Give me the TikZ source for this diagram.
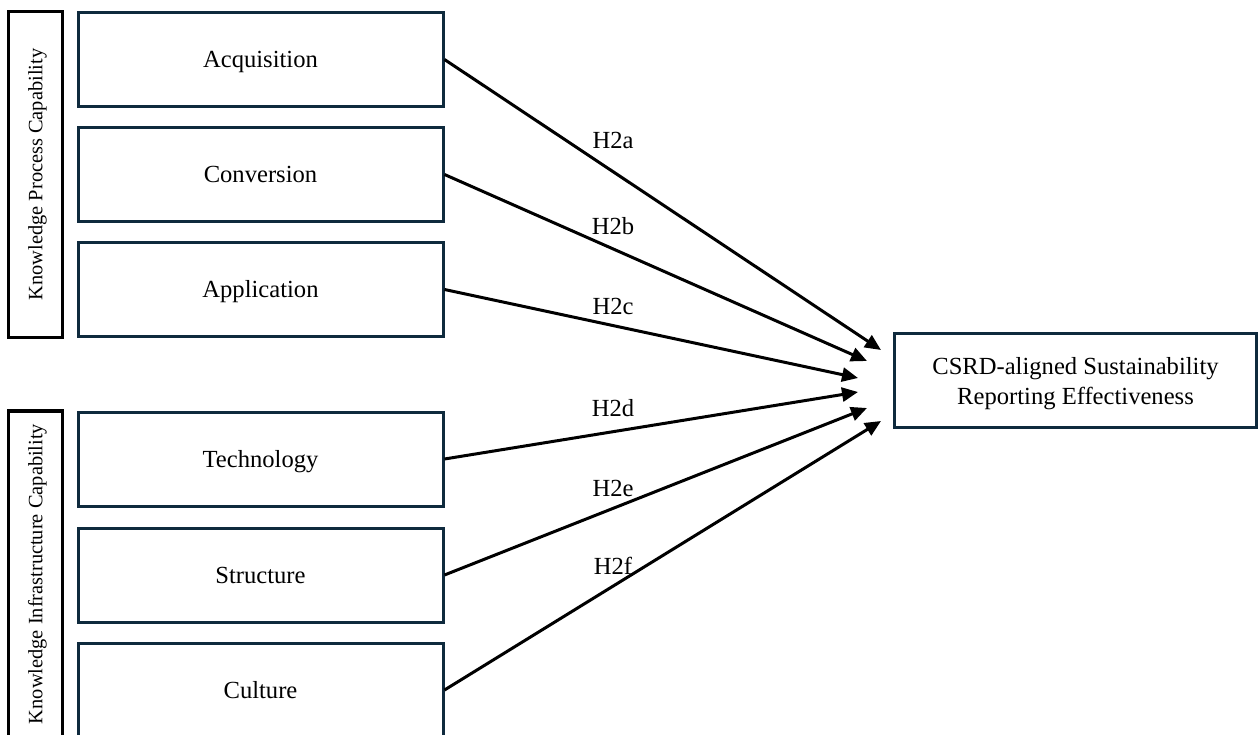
\documentclass[tikz,border=0pt]{standalone}
\usepackage{fontspec}
\setmainfont{Liberation Serif}
\usetikzlibrary{arrows.meta}
\definecolor{boxnavy}{HTML}{0F2A3D}
\begin{document}
\begin{tikzpicture}[x=1pt,y=-1pt,
  dimbox/.style={draw=boxnavy,line width=3pt,minimum width=365pt,minimum height=94pt,
    inner sep=0pt,font=\fontsize{24.6}{30}\selectfont,text height=22pt,text depth=5.3pt},
  groupbox/.style={draw=black,line width=3.3pt,minimum width=54pt,inner sep=0pt},
  grouplabel/.style={rotate=90,font=\fontsize{20.4}{24}\selectfont,text height=18.2pt,text depth=4.4pt,inner sep=0pt},
  hyp/.style={font=\fontsize{24.6}{29}\selectfont,inner sep=0pt},
  link/.style={line width=3pt,-{Triangle[length=16pt,width=14pt]}}]
\useasboundingbox (0,0) rectangle (1260,735);
\clip (0,0) rectangle (1260,735);

% capability groups
\node[groupbox,minimum height=326pt] (kpc) at (35.5,174.5) {};
\node[grouplabel] (kpclab) at (kpc.center) {Knowledge Process Capability};
\node[groupbox,minimum height=326pt] (kic) at (35.5,574) {};
\node[grouplabel] (kiclab) at (kic.center) {Knowledge Infrastructure Capability};

% dimensions
\node[dimbox] (acq) at (260.5,59.5) {Acquisition};
\node[dimbox] (con) at (260.5,174.5) {Conversion};
\node[dimbox] (app) at (260.5,289.5) {Application};
\node[dimbox] (tec) at (260.5,459) {Technology};
\node[dimbox] (str) at (260.5,575) {Structure};
\node[dimbox] (cul) at (260.5,690) {Culture};

% outcome
\node[draw=boxnavy,line width=3pt,minimum width=362pt,minimum height=94pt,inner sep=0pt]
  (csrd) at (1075.5,380.5) {};
\node[align=center,inner sep=0pt,font=\fontsize{24.6}{30}\selectfont] (csrdtext) at (1075.5,384)
  {CSRD-aligned Sustainability\\Reporting Effectiveness};

% arrow tips
\coordinate (ta) at (881,350);
\coordinate (tb) at (867,361);
\coordinate (tc) at (858,378);
\coordinate (td) at (858,392);
\coordinate (te) at (867,408);
\coordinate (tf) at (881,421);

\draw[link] (acq.east) -- (ta);
\draw[link] (con.east) -- (tb);
\draw[link] (app.east) -- (tc);
\draw[link] (tec.east) -- (td);
\draw[link] (str.east) -- (te);
\draw[link] (cul.east) -- (tf);

% hypothesis labels
\node[hyp] (h2a) at (613,140) {H2a};
\node[hyp] (h2b) at (613,226) {H2b};
\node[hyp] (h2c) at (613,306) {H2c};
\node[hyp] (h2d) at (613,408) {H2d};
\node[hyp] (h2e) at (613,488) {H2e};
\node[hyp] (h2f) at (613,566) {H2f};
\end{tikzpicture}
\end{document}
